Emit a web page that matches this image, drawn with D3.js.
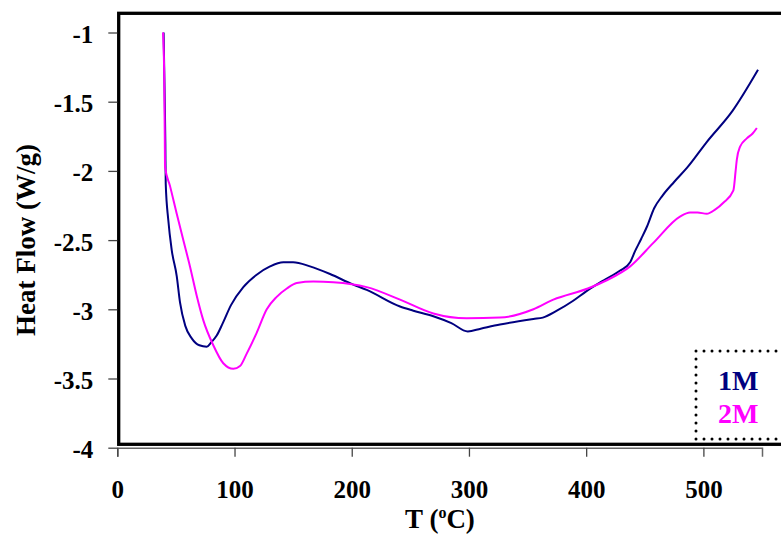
<!DOCTYPE html>
<html>
<head>
<meta charset="utf-8">
<script src="https://cdn.jsdelivr.net/npm/d3@7"></script>
<style>
  body { margin: 0; background: #fff; }
  text { font-family: "Liberation Serif", "Times New Roman", serif; font-weight: bold; }
</style>
</head>
<body>
<div id="chart"></div>
<script>
var w = 781;
var h = 536;

// 1M sample: temperature (C) and heat flow (W/g)
var temp1 = [39.5, 40, 40.5, 41, 41.3, 43.5, 46.4, 50.7, 53.5, 58, 63.5, 70, 76.3, 80, 84.8, 90, 97,
  107.5, 118.9, 130.3, 141.6, 150, 164.4, 181.5, 200.8, 212.8, 241.2, 252.6, 269.6, 285, 299, 310, 326.5,
  355, 363, 375, 388.6, 400, 415, 429, 437.5, 441.7, 447, 452, 458, 465, 475, 486.3, 503, 525, 546.6];
var flow1 = [-1.0, -1.25, -1.5, -1.8, -2.09, -2.355, -2.57, -2.76, -2.95, -3.12, -3.21, -3.26, -3.27, -3.24, -3.19, -3.1, -2.97,
  -2.84, -2.75, -2.69, -2.66, -2.66, -2.69, -2.745, -2.82, -2.86, -2.98, -3.01, -3.05, -3.1, -3.16, -3.14, -3.11,
  -3.07, -3.06, -3.01, -2.94, -2.87, -2.79, -2.72, -2.66, -2.58, -2.49, -2.4, -2.27, -2.18, -2.08, -1.975, -1.79, -1.565, -1.27];

// 2M sample
var temp2 = [39, 40, 40.5, 40.7, 45, 50.7, 56.3, 62, 67.7, 73.4, 81.9, 90.4, 99, 104.7, 110.4, 118.9, 127.5, 136,
  144.6, 153.1, 167.3, 184.3, 212.8, 241.2, 269.6, 298, 326.5, 355, 372, 401.4, 417.6, 437.5, 457.3, 480,
  488.6, 495, 502.9, 510, 517, 525.6, 527.5, 528.5, 531.3, 537, 542, 545.6];
var flow2 = [-1.0, -1.3, -1.74, -1.97, -2.11, -2.31, -2.5, -2.69, -2.9, -3.08, -3.26, -3.39, -3.43, -3.41, -3.32, -3.17, -3.0, -2.91,
  -2.85, -2.81, -2.8, -2.805, -2.84, -2.93, -3.03, -3.065, -3.06, -3.0, -2.93, -2.85, -2.79, -2.69, -2.52, -2.33,
  -2.3, -2.3, -2.31, -2.28, -2.23, -2.14, -2.0, -1.92, -1.825, -1.765, -1.73, -1.69];

var xTicks = [0, 100, 200, 300, 400, 500];
var yTicks = [-1, -1.5, -2, -2.5, -3, -3.5, -4];
var seriesNames = ["1M", "2M"];
var seriesColors = ["#000080", "#ff00ff"];

var svg = d3.select("#chart")
  .append("svg")
  .attr("width", w)
  .attr("height", h);

// Scales
var xScale = d3.scaleLinear().domain([0, 550]).range([117.3, 762]);
var yScale = d3.scaleLinear().domain([-4, -1]).range([447.7, 32.5]);

// Frame (open on the right, cut by the image)
svg.append("rect")
  .attr("x", 118.7)
  .attr("y", 13.3)
  .attr("width", 720)
  .attr("height", 431)
  .attr("fill", "none")
  .attr("stroke", "#000")
  .attr("stroke-width", 3.3);

// Axes
var xAxis = svg.append("g")
  .attr("transform", "translate(0," + yScale(-4) + ")")
  .call(d3.axisBottom(xScale).tickValues(xTicks).tickSize(9).tickPadding(24).tickFormat(function (d) { return String(d); }));
xAxis.select(".domain").attr("stroke", "#666").attr("stroke-width", 1.5);
xAxis.selectAll(".tick line").attr("stroke", "#444").attr("stroke-width", 1.3);
xAxis.selectAll("text").attr("font-size", 25).attr("fill", "#000")
  .style("font-family", "'Liberation Serif', 'Times New Roman', serif").style("font-weight", "bold");

var yAxis = svg.append("g")
  .attr("transform", "translate(" + xScale(0) + ",0)")
  .call(d3.axisLeft(yScale).tickValues(yTicks).tickSize(9).tickPadding(15).tickFormat(function (d) { return String(d); }));
yAxis.select(".domain").remove();
yAxis.selectAll(".tick line").attr("stroke", "#444").attr("stroke-width", 1.3);
yAxis.selectAll("text").attr("font-size", 25).attr("fill", "#000").attr("dy", "0.4em")
  .style("font-family", "'Liberation Serif', 'Times New Roman', serif").style("font-weight", "bold");

// Lines
var line = d3.line()
  .curve(d3.curveMonotoneX)
  .x(function (d) { return xScale(d[0]); })
  .y(function (d) { return yScale(d[1]); });

var series = [d3.zip(temp1, flow1), d3.zip(temp2, flow2)];

svg.selectAll("path.series")
  .data(series)
  .enter()
  .append("path")
  .attr("class", "series")
  .attr("d", line)
  .attr("fill", "none")
  .attr("stroke", function (d, i) { return seriesColors[i]; })
  .attr("stroke-width", 2)
  .attr("stroke-linejoin", "round");

// Axis titles
var xTitle = svg.append("text")
  .attr("x", 440)
  .attr("y", 528)
  .attr("text-anchor", "middle")
  .attr("font-size", 27)
  .attr("fill", "#000");
xTitle.append("tspan").text("T (");
xTitle.append("tspan").attr("font-size", 16).attr("dy", -10).text("o");
xTitle.append("tspan").attr("dy", 10).text("C)");

svg.append("text")
  .attr("transform", "translate(35," + yScale(-2.5) + ") rotate(-90)")
  .attr("text-anchor", "middle")
  .attr("font-size", 27)
  .attr("fill", "#000")
  .text("Heat Flow (W/g)");

// Legend
svg.append("rect")
  .attr("x", 696)
  .attr("y", 351)
  .attr("width", 120)
  .attr("height", 88)
  .attr("fill", "#fff")
  .attr("stroke", "#000")
  .attr("stroke-width", 3)
  .attr("stroke-linecap", "round")
  .attr("stroke-dasharray", "0 8");

svg.selectAll("text.legend")
  .data(seriesNames)
  .enter()
  .append("text")
  .attr("class", "legend")
  .attr("x", 718)
  .attr("y", function (d, i) { return 390 + i * 33; })
  .attr("font-size", 28)
  .attr("fill", function (d, i) { return seriesColors[i]; })
  .text(function (d) { return d; });
</script>
</body>
</html>
